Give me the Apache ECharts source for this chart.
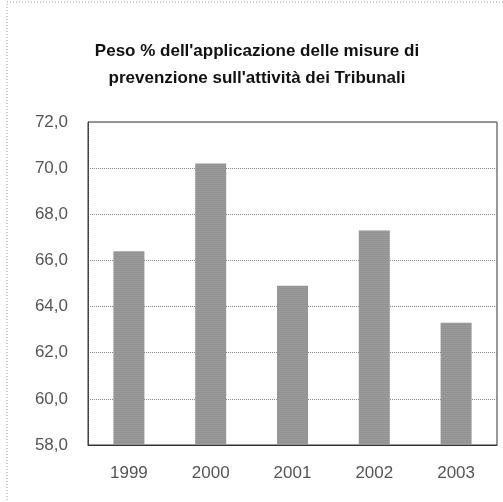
<!DOCTYPE html>
<html>
<head>
<meta charset="utf-8">
<script src="https://cdn.jsdelivr.net/npm/echarts@6/dist/echarts.min.js"></script>
<style>
  html, body { margin: 0; padding: 0; background: #fff; }
  #main { width: 503px; height: 502px; }
</style>
</head>
<body>
<div id="main"></div>
<script>
  // dati
  var anni = ['1999', '2000', '2001', '2002', '2003'];
  var peso = [66.4, 70.2, 64.9, 67.3, 63.3];

  var chart = echarts.init(document.getElementById('main'));
  chart.setOption({
    animation: false,
    title: {
      text: "Peso % dell'applicazione delle misure di\nprevenzione sull'attività dei Tribunali",
      left: 252,
      textAlign: 'center',
      top: 33,
      textStyle: {
        fontFamily: 'Liberation Sans',
        fontSize: 17,
        fontWeight: 'bold',
        color: '#111',
        lineHeight: 27
      }
    },
    graphic: [{
      type: 'rect',
      shape: { x: 7, y: 2, width: 600, height: 600 },
      style: { fill: 'none', stroke: '#999', lineWidth: 1, lineDash: [1, 2] },
      silent: true
    }],
    grid: {
      left: 88, right: 6, top: 122, bottom: 57,
      show: true, borderColor: '#333', borderWidth: 1
    },
    xAxis: {
      type: 'category',
      data: anni,
      axisTick: { show: false },
      axisLine: { lineStyle: { color: '#333' } },
      axisLabel: {
        margin: 20,
        fontFamily: 'Liberation Sans',
        fontSize: 17,
        color: '#555'
      }
    },
    yAxis: {
      type: 'value',
      min: 58, max: 72, interval: 2,
      axisLine: { show: true, lineStyle: { color: '#333', type: 'dotted' } },
      axisTick: { show: false },
      splitLine: { lineStyle: { color: '#888', type: 'dotted' } },
      axisLabel: {
        margin: 20,
        fontFamily: 'Liberation Sans',
        fontSize: 17,
        color: '#555',
        formatter: function (v) { return v.toFixed(1).replace('.', ','); }
      }
    },
    series: [{
      type: 'bar',
      data: peso,
      barWidth: 31,
      itemStyle: {
        color: '#9a9a9a',
        decal: {
          symbol: 'rect',
          symbolSize: 0.5,
          dashArrayX: [1, 0],
          dashArrayY: [1, 1],
          color: 'rgba(60,60,60,0.35)',
          rotation: 0
        }
      }
    }]
  });
</script>
</body>
</html>
